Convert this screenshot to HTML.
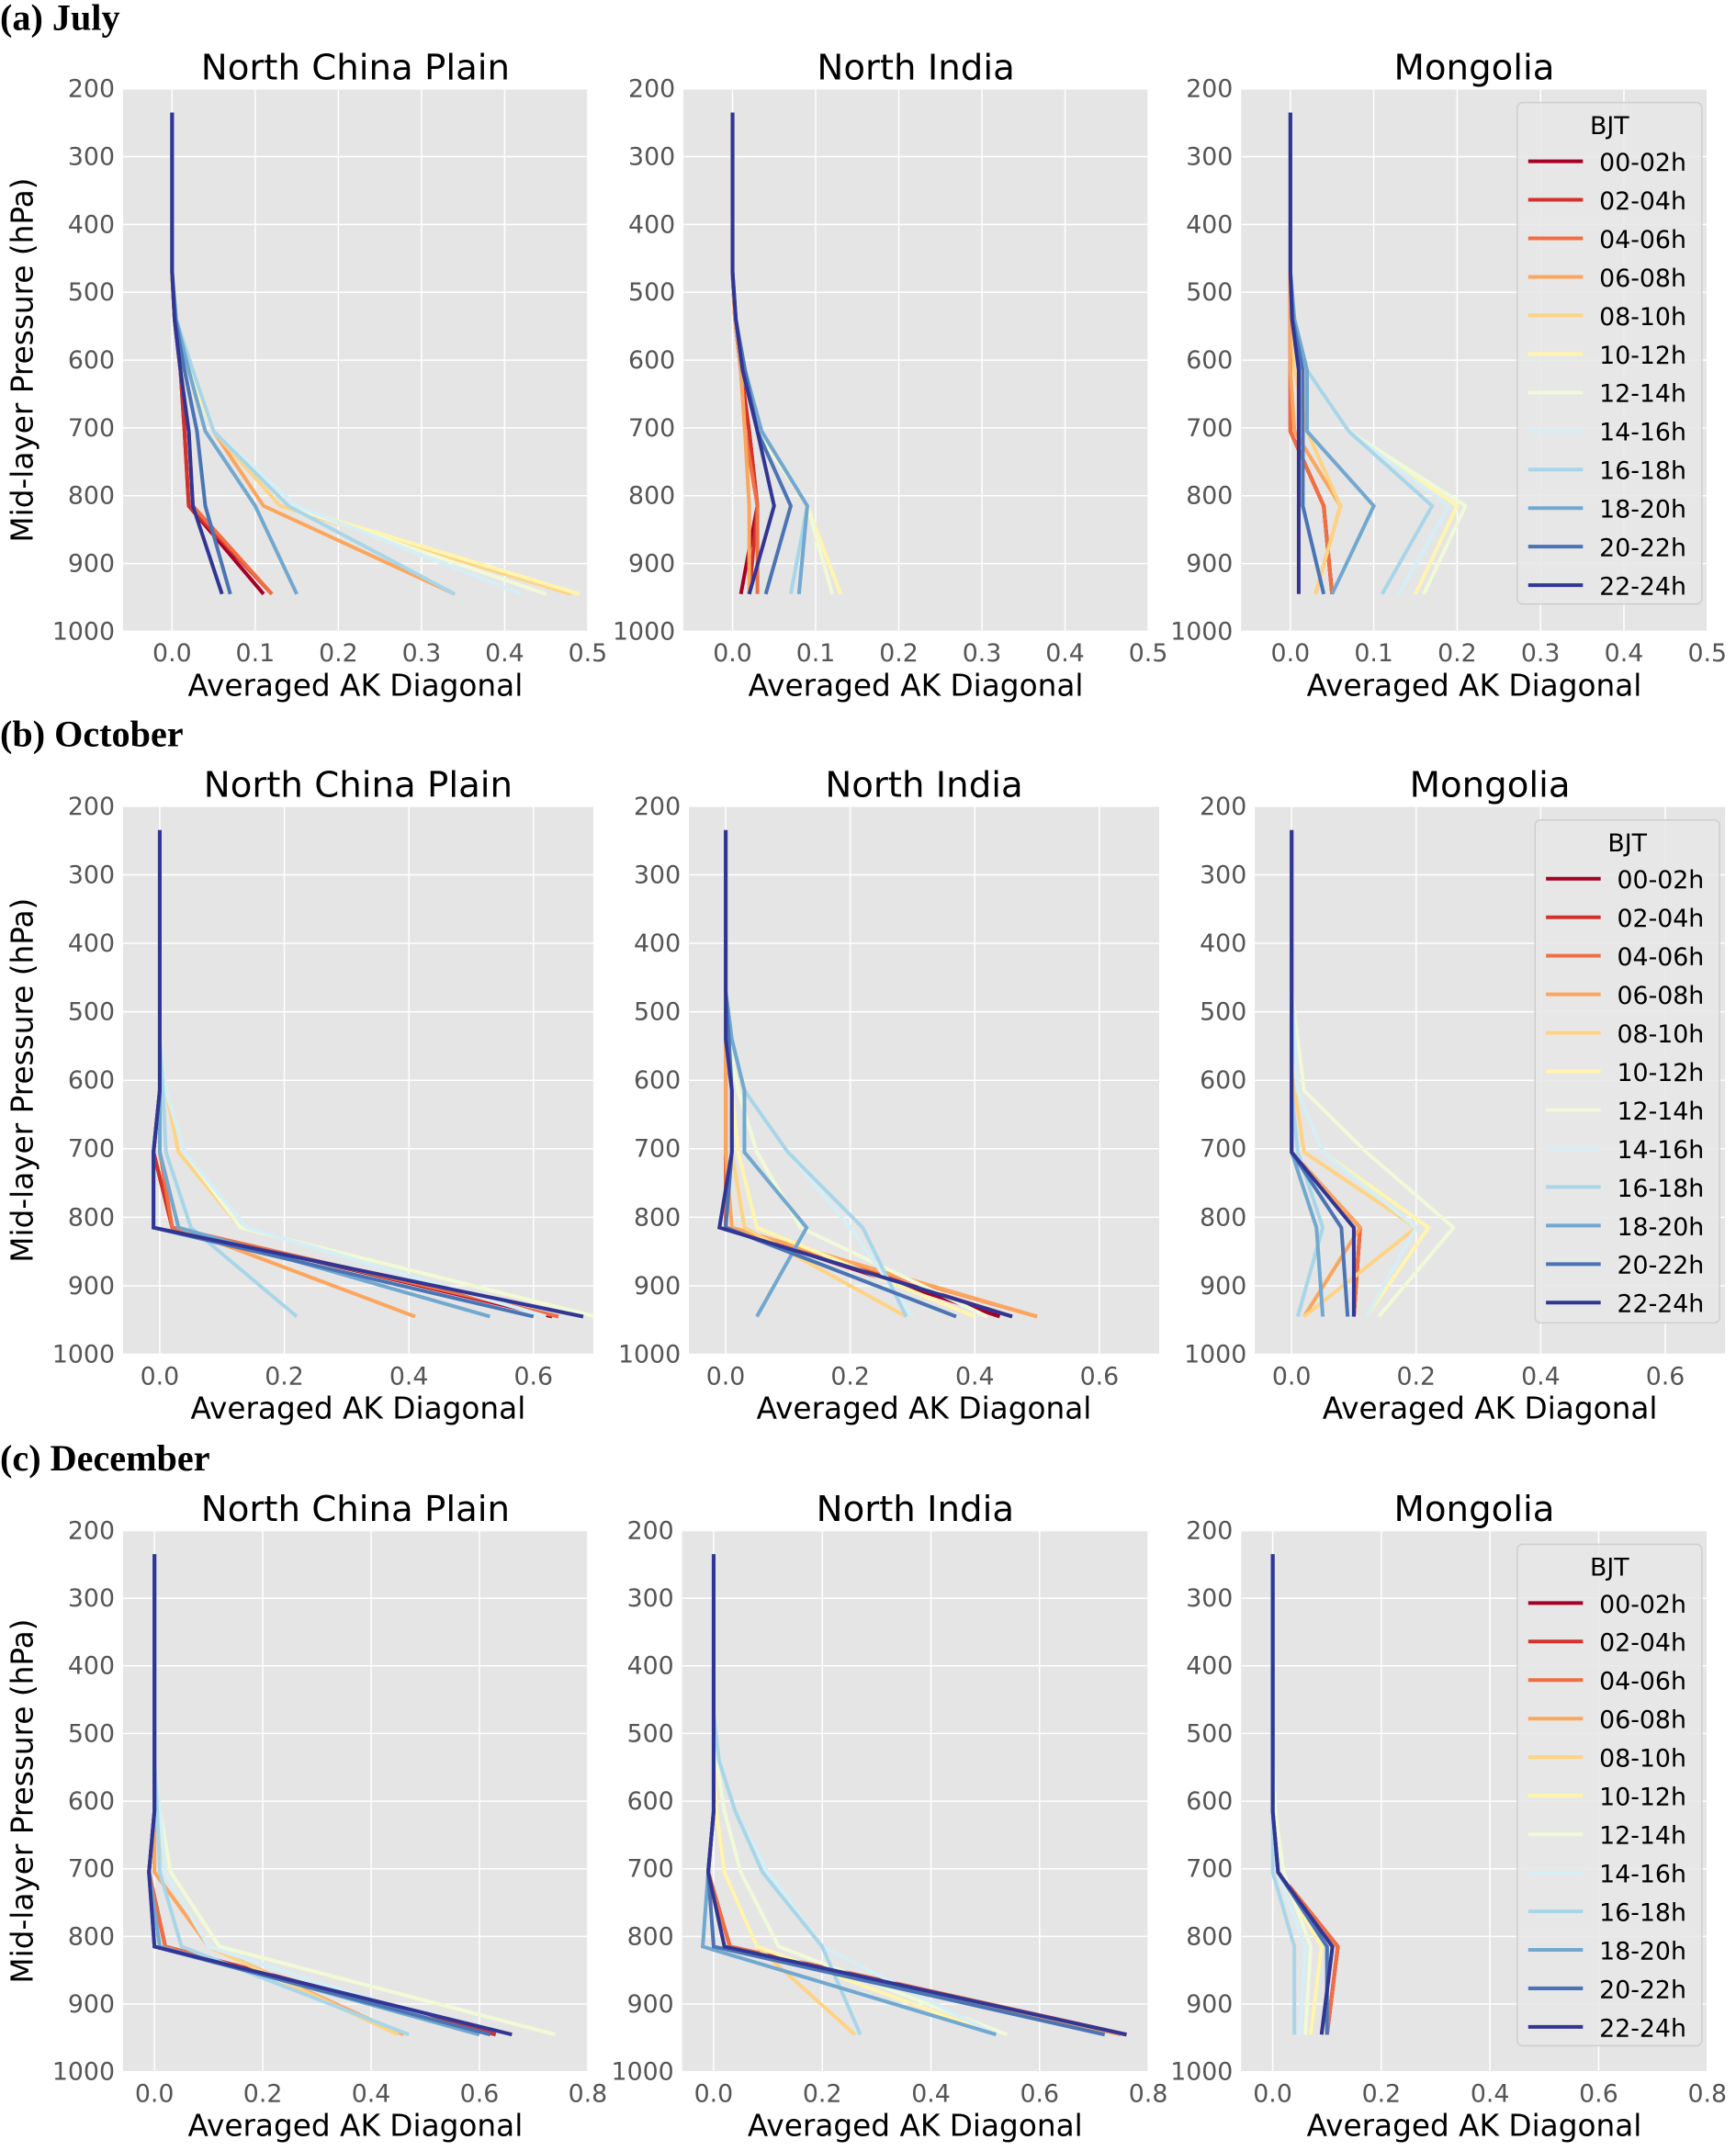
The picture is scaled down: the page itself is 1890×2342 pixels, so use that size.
<!DOCTYPE html>
<html><head><meta charset="utf-8"><style>
html,body{margin:0;padding:0;background:#fff;}
svg{display:block;}
text{font-family:"DejaVu Sans","Liberation Sans",sans-serif;}
.row{font-family:"Liberation Serif",serif;font-weight:bold;}
</style></head><body>
<svg id="fig" width="1890" height="2342" viewBox="0 0 1270 1574" preserveAspectRatio="none" xmlns="http://www.w3.org/2000/svg"></svg>
<script>
const pressureLevels=[235,470,540,615,705,815,945];
const hourLabels=["00-02h","02-04h","04-06h","06-08h","08-10h","10-12h","12-14h","14-16h","16-18h","18-20h","20-22h","22-24h"];
const seriesColors=["#a50026","#d3322b","#f16e43","#fca55d","#fed384","#fff5ae","#f0f9d8","#d6eef5","#a8d6e8","#72a8cf","#4a74b4","#313695"];
const regionTitles=["North China Plain","North India","Mongolia"];
const rowLabels=["(a) July","(b) October","(c) December"];
const yTicks=[200,300,400,500,600,700,800,900,1000];
const xTicksJul=[0,0.1,0.2,0.3,0.4,0.5];
const xTicksOct=[0,0.2,0.4,0.6];
const xTicksDec=[0,0.2,0.4,0.6,0.8];
const julNCP=[[0,0,0.003,0.01,0.015,0.02,0.11],[0,0,0.003,0.01,0.015,0.02,0.12],[0,0,0.003,0.01,0.02,0.025,0.12],[0,0,0.005,0.02,0.05,0.11,0.34],[0,0,0.005,0.02,0.05,0.13,0.48],[0,0,0.005,0.02,0.05,0.14,0.49],[0,0,0.005,0.025,0.05,0.14,0.45],[0,0,0.005,0.025,0.05,0.15,0.42],[0,0,0.005,0.025,0.05,0.14,0.34],[0,0,0.005,0.02,0.04,0.1,0.15],[0,0,0.004,0.015,0.03,0.04,0.07],[0,0,0.003,0.01,0.02,0.025,0.06]];
const julNI=[[0,0,0.003,0.01,0.02,0.03,0.01],[0,0,0.003,0.01,0.02,0.03,0.02],[0,0,0.003,0.01,0.015,0.03,0.03],[0,0,0.003,0.01,0.015,0.02,0.02],[0,0,0.004,0.012,0.03,0.09,0.12],[0,0,0.004,0.012,0.03,0.09,0.13],[0,0,0.004,0.012,0.03,0.09,0.12],[0,0,0.004,0.015,0.035,0.09,0.08],[0,0,0.004,0.015,0.035,0.09,0.07],[0,0,0.004,0.015,0.035,0.09,0.08],[0,0,0.004,0.015,0.03,0.07,0.04],[0,0,0.004,0.012,0.03,0.05,0.02]];
const julMON=[[0,0,0,0,0,0.04,0.05],[0,0,0,0,0,0.04,0.05],[0,0,0,0,0,0.04,0.05],[0,0,0,0,0.005,0.06,0.03],[0,0,0.003,0.005,0.02,0.06,0.03],[0,0,0.005,0.02,0.07,0.2,0.15],[0,0,0.005,0.02,0.07,0.21,0.16],[0,0,0.005,0.02,0.07,0.19,0.13],[0,0,0.005,0.02,0.07,0.17,0.11],[0,0,0.005,0.02,0.02,0.1,0.05],[0,0,0.003,0.015,0.015,0.015,0.04],[0,0,0.002,0.01,0.01,0.01,0.01]];
const octNCP=[[0,0,0,0,-0.01,0.02,0.63],[0,0,0,0,-0.01,0.02,0.64],[0,0,0,0,0,0.02,0.64],[0,0,0,0,0,0.03,0.41],[0,0,0,0.01,0.03,0.13,0.7],[0,0,0,0.01,0.04,0.13,0.7],[0,0,0,0.01,0.04,0.13,0.7],[0,0,0,0.01,0.04,0.14,0.62],[0,0,0,0.005,0.01,0.05,0.22],[0,0,0,0,0,0.03,0.53],[0,0,0,0,-0.01,-0.01,0.6],[0,0,0,0,-0.01,-0.01,0.68]];
const octNI=[[0,0,0,0,0,0,0.44],[0,0,0,0,0,0,0.46],[0,0,0,0,0,0,0.5],[0,0,0,0,0,0.01,0.5],[0,0,0,0.01,0.01,0.03,0.29],[0,0,0,0.01,0.02,0.05,0.4],[0,0,0.005,0.02,0.05,0.12,0.42],[0,0,0.01,0.03,0.1,0.2,0.3],[0,0,0.01,0.03,0.1,0.22,0.29],[0,0,0.01,0.03,0.03,0.13,0.05],[0,0,0.005,0.01,0.01,0,0.37],[0,0,0,0.01,0.01,-0.01,0.46]];
const octMON=[[0,0,0,0,0,0.11,0.1],[0,0,0,0,0,0.11,0.1],[0,0,0,0,0,0.11,0.1],[0,0,0,0,0,0.11,0.02],[0,0,0,0.005,0.02,0.2,0.02],[0,0,0,0.01,0.05,0.22,0.12],[0,0,0.01,0.02,0.12,0.26,0.14],[0,0,0.005,0.01,0.05,0.2,0.12],[0,0,0,0,0.01,0.05,0.01],[0,0,0,0,0,0.04,0.05],[0,0,0,0,0,0.08,0.09],[0,0,0,0,0,0.1,0.1]];
const decNCP=[[0,0,0,0,-0.01,0.02,0.63],[0,0,0,0,-0.01,0.02,0.63],[0,0,0,0,-0.01,0.02,0.6],[0,0,0,0,0,0.1,0.46],[0,0,0,0.005,0.02,0.1,0.45],[0,0,0,0.01,0.03,0.12,0.74],[0,0,0,0.01,0.03,0.12,0.74],[0,0,0,0.01,0.02,0.1,0.6],[0,0,0,0.005,0.01,0.05,0.47],[0,0,0,0,-0.01,0.01,0.6],[0,0,0,0,-0.01,0,0.62],[0,0,0,0,-0.01,0,0.66]];
const decNI=[[0,0,0,0,-0.01,0.03,0.76],[0,0,0,0,-0.01,0.03,0.76],[0,0,0,0,-0.01,0.03,0.76],[0,0,0,0,-0.01,0.02,0.75],[0,0,0,0.005,0.02,0.08,0.26],[0,0,0,0.005,0.02,0.08,0.52],[0,0,0.005,0.02,0.05,0.12,0.54],[0,0,0.01,0.04,0.1,0.2,0.52],[0,0,0.01,0.04,0.09,0.2,0.27],[0,0,0,0,-0.01,-0.02,0.52],[0,0,0,0,-0.01,0,0.72],[0,0,0,0,-0.01,0.02,0.76]];
const decMON=[[0,0,0,0,0.01,0.12,0.1],[0,0,0,0,0.01,0.12,0.1],[0,0,0,0,0.01,0.12,0.1],[0,0,0,0,0.01,0.11,0.09],[0,0,0,0,0.01,0.09,0.07],[0,0,0,0,0.01,0.09,0.07],[0,0,0,0.005,0.02,0.07,0.06],[0,0,0,0,0.01,0.06,0.05],[0,0,0,0,0,0.04,0.04],[0,0,0,0,0.01,0.1,0.1],[0,0,0,0,0.01,0.1,0.1],[0,0,0,0,0.01,0.11,0.09]];

const NS="http://www.w3.org/2000/svg";
const svg=document.getElementById('fig');
function el(tag,attrs,parent){const e=document.createElementNS(NS,tag);for(const k in attrs)e.setAttribute(k,attrs[k]);(parent||svg).appendChild(e);return e;}
function txt(s,attrs,parent){const t=el('text',attrs,parent);t.textContent=s;return t;}

const rows=[
 {label:"(a) July",ly:22,top:65,bot:462,xmin:-0.059,xmax:0.5,ticks:xTicksJul,fmt:1,data:[julNCP,julNI,julMON],lefts:[90,500,908],rights:[430,840,1249],legend:{x:1110,y:75,w:135,h:367}},
 {label:"(b) October",ly:546,top:590,bot:991,xmin:-0.059,xmax:0.696,ticks:xTicksOct,fmt:1,data:[octNCP,octNI,octMON],lefts:[90,504,918],rights:[434,848,1262],legend:{x:1123,y:600,w:135,h:368}},
 {label:"(c) December",ly:1076,top:1120,bot:1516,xmin:-0.058,xmax:0.8,ticks:xTicksDec,fmt:1,data:[decNCP,decNI,decMON],lefts:[90,499,908],rights:[430,840,1249],legend:{x:1110,y:1130,w:135,h:367}}
];

rows.forEach((r,ri)=>{
 const rl=txt(r.label,{x:0,y:r.ly,'font-size':27,class:'row',fill:'#000'});
 
 
 for(let pi=0;pi<3;pi++){
  const L=r.lefts[pi],R=r.rights[pi],T=r.top,B=r.bot;
  const xs=v=>L+(v-r.xmin)/(r.xmax-r.xmin)*(R-L);
  const ys=p=>T+(p-200)/800*(B-T);
  const g=el('g',{});
  
  
  el('rect',{x:L,y:T,width:R-L,height:B-T,fill:'#e5e5e5'},g);
  yTicks.forEach(p=>{
   el('line',{x1:L,x2:R,y1:ys(p),y2:ys(p),stroke:'#fff','stroke-width':1},g);
   const t=txt(String(p),{x:L-6,y:ys(p)+6,'font-size':18,'text-anchor':'end',fill:'#555'},g);
   
   
  });
  r.ticks.forEach(v=>{
   el('line',{x1:xs(v),x2:xs(v),y1:T,y2:B,stroke:'#fff','stroke-width':1},g);
   const t=txt(v.toFixed(1),{x:xs(v),y:B+22,'font-size':18,'text-anchor':'middle',fill:'#555'},g);
   
   
  });
  const ti=txt(regionTitles[pi],{x:(L+R)/2,y:T-7,'font-size':26,'text-anchor':'middle',fill:'#000'},g);
  
  
  const xl=txt("Averaged AK Diagonal",{x:(L+R)/2,y:B+47,'font-size':22,'text-anchor':'middle',fill:'#000'},g);
  
  
  if(pi===0){
   const cy=(T+B)/2;
   const yl=txt("Mid-layer Pressure (hPa)",{x:0,y:0,'font-size':22,'text-anchor':'middle',fill:'#000',transform:`translate(24,${cy}) rotate(-90)`},g);
   
   
  }
  const clip='c'+ri+pi;
  const cp=el('clipPath',{id:clip},g);el('rect',{x:L,y:T,width:R-L,height:B-T},cp);
  r.data[pi].forEach((s,si)=>{
   const pts=s.map((v,k)=>xs(v).toFixed(1)+','+ys(pressureLevels[k]).toFixed(1)).join(' ');
   const pl=el('polyline',{points:pts,fill:'none',stroke:seriesColors[si],'stroke-width':2.7,'clip-path':`url(#${clip})`},g);
   
   
  });
 }
 const lg=r.legend;
 const leg=el('g',{});
 
 
 el('rect',{x:lg.x,y:lg.y,width:lg.w,height:lg.h,rx:4,fill:'#e8e8e8',stroke:'#ccc','stroke-width':1,opacity:0.9},leg);
 txt("BJT",{x:lg.x+lg.w/2,y:lg.y+23,'font-size':18,'text-anchor':'middle',fill:'#000'},leg);
 hourLabels.forEach((h,i)=>{
  const y=lg.y+43+i*28.2;
  el('line',{x1:lg.x+8,x2:lg.x+48,y1:y,y2:y,stroke:seriesColors[i],'stroke-width':2.7},leg);
  const t=txt(h,{x:lg.x+60,y:y+7,'font-size':18,fill:'#000'},leg);
  
  
 });
});
</script>
</body></html>
